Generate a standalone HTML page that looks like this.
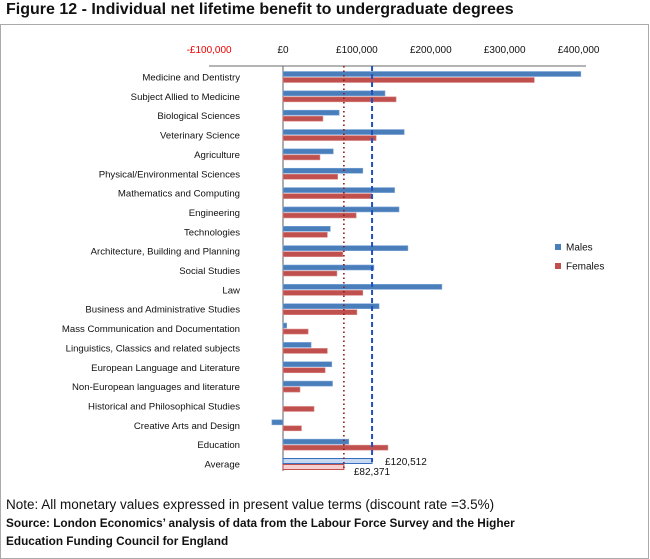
<!DOCTYPE html>
<html><head><meta charset="utf-8"><style>
body{margin:0;background:#fff;}
#wrap{position:relative;width:650px;height:559px;overflow:hidden;font-family:"Liberation Sans",Arial,sans-serif;}
</style></head><body>
<div id="wrap">
<div style="position:absolute;left:0;top:24px;width:647px;height:533px;border:1px solid #aaa;"></div>
<div style="position:absolute;left:6px;top:1px;font-size:16px;font-weight:bold;color:#111;white-space:nowrap;">Figure 12 - Individual net lifetime benefit to undergraduate degrees</div>
<svg id="chart" width="650" height="559" style="position:absolute;left:0;top:0;"></svg>
<div style="position:absolute;left:6px;top:497px;font-size:13.5px;color:#111;white-space:nowrap;">Note: All monetary values expressed in present value terms (discount rate =3.5%)</div>
<div style="position:absolute;left:6px;top:514px;font-size:11.8px;font-weight:bold;color:#111;line-height:18px;white-space:nowrap;">Source: London Economics’ analysis of data from the Labour Force Survey and the Higher<br>Education Funding Council for England</div>
</div>
<script>
const categories=["Medicine and Dentistry","Subject Allied to Medicine","Biological Sciences","Veterinary Science","Agriculture","Physical/Environmental Sciences","Mathematics and Computing","Engineering","Technologies","Architecture, Building and Planning","Social Studies","Law","Business and Administrative Studies","Mass Communication and Documentation","Linguistics, Classics and related subjects","European Language and Literature","Non-European languages and literature","Historical and Philosophical Studies","Creative Arts and Design","Education","Average"];
const males=[403000,138000,76000,164000,68000,108000,151000,157000,64000,169000,123000,215000,130000,5000,38000,66000,67000,0,-15000,89000,120512];
const females=[340000,153000,54000,126000,50000,74000,120000,99000,60000,81000,73000,108000,100000,34000,60000,57000,23000,42000,25000,142000,82371];
const tickValues=[-100000,0,100000,200000,300000,400000];
const tickLabels=["-£100,000","£0","£100,000","£200,000","£300,000","£400,000"];
const avgLabels=["£120,512","£82,371"];

const svg=document.getElementById('chart');
const NS='http://www.w3.org/2000/svg';
const x0=283, pxPer=73.9/100000;
const xs=v=>x0+v*pxPer;
const rowY=i=>77+i*19.35;
function mk(tag,attrs){const e=document.createElementNS(NS,tag);for(const k in attrs)e.setAttribute(k,attrs[k]);svg.appendChild(e);return e;}

let ax=mk('line',{x1:209,y1:66,x2:586,y2:66,stroke:'#888','stroke-width':1.2});


let zl=mk('line',{x1:x0,y1:66,x2:x0,y2:471,stroke:'#777','stroke-width':1.2});



tickValues.forEach((v,i)=>{
  const t=mk('text',{x:xs(v),y:53,'text-anchor':'middle','font-size':10,fill:v<0?'#e00':'#111'});
  t.textContent=tickLabels[i];
  
  
});

const n=categories.length;
categories.forEach((c,i)=>{
  const yc=rowY(i);
  const t=mk('text',{x:240,y:yc+3.5,'text-anchor':'end','font-size':9.6,fill:'#111'});
  t.textContent=c;
  
  
  const avg=i===n-1;
  const m=males[i], f=females[i];
  const mb=mk('rect',{x:Math.min(xs(0),xs(m)),y:yc-5.5,width:Math.max(Math.abs(xs(m)-xs(0)),0.01),height:5,fill:avg?'#c6d9f1':'#4a7ebb',stroke:avg?'#3a6fc0':'#7aa4d8','stroke-width':avg?1:0.6});
  
  
  const fb=mk('rect',{x:Math.min(xs(0),xs(f)),y:yc+0.5,width:Math.max(Math.abs(xs(f)-xs(0)),0.01),height:5,fill:avg?'#f6d0d0':'#c0504d',stroke:avg?'#c0504d':'#d98a88','stroke-width':avg?1:0.6});
  
  
});

const mAvg=males[n-1], fAvg=females[n-1];
let dl=mk('line',{x1:xs(mAvg),y1:66,x2:xs(mAvg),y2:462,stroke:'#1f50c0','stroke-width':2,'stroke-dasharray':'5,3'});


let fl=mk('line',{x1:xs(fAvg),y1:66,x2:xs(fAvg),y2:470,stroke:'#8b1a1a','stroke-width':1.6,'stroke-dasharray':'1.5,3'});



const yA=rowY(n-1);
let l1=mk('text',{x:xs(mAvg)+13,y:yA+1,'font-size':10,fill:'#111'});
l1.textContent=avgLabels[0];


let l2=mk('text',{x:xs(fAvg)+10,y:yA+11,'font-size':10,fill:'#111'});
l2.textContent=avgLabels[1];



[["Males",'#4a7ebb',244],["Females",'#c0504d',263]].forEach(([lab,col,y])=>{
  const r=mk('rect',{x:555,y:y,width:6,height:6,fill:col});
  
  
  const t=mk('text',{x:566,y:y+6.5,'font-size':10,fill:'#111'});
  t.textContent=lab;
  
  
});
</script>
</body></html>
